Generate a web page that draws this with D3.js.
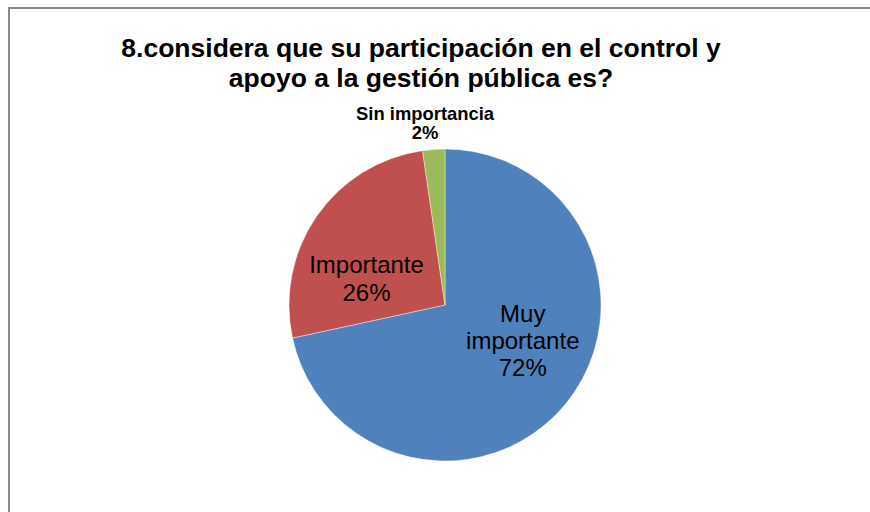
<!DOCTYPE html>
<html>
<head>
<meta charset="utf-8">
<script src="https://cdn.jsdelivr.net/npm/d3@7"></script>
<style>
  body { margin: 0; background: #fff; }
  svg { display: block; font-family: "Liberation Sans", Arial, sans-serif; }
</style>
</head>
<body>
<svg id="chart"></svg>
<script>
// data
const categories = ['Muy importante', 'Importante', 'Sin importancia'];
const values = [71.6, 26.1, 2.3];
const labelLines = [['Muy', 'importante', '72%'], ['Importante', '26%'], ['Sin importancia', '2%']];
const titleLines = ['8.considera que su participación en el control y', 'apoyo a la gestión pública es?'];
const colors = ['#4F81BD', '#C0504D', '#9BBB59'];

const width = 870, height = 512;
const cx = 445, cy = 305, radius = 156;

const svg = d3.select('#chart')
    .attr('width', width)
    .attr('height', height);

svg.append('rect')
    .attr('width', width).attr('height', height)
    .attr('fill', '#fff');

// chart frame (only left and top edges visible)
svg.append('rect')
    .attr('x', 9).attr('y', 8)
    .attr('width', 1000).attr('height', 1000)
    .attr('fill', 'none')
    .attr('stroke', '#8a8a8a')
    .attr('stroke-width', 2);

// title
svg.append('g').selectAll('text')
    .data(titleLines)
    .join('text')
    .attr('x', 421)
    .attr('y', (d, i) => 57 + i * 30)
    .attr('text-anchor', 'middle')
    .style('font-size', '26.5px')
    .style('font-weight', 'bold')
    .attr('fill', '#000')
    .text(d => d);

const pie = d3.pie().sort(null).value(d => d);
const arcs = pie(values);

const arc = d3.arc().innerRadius(0).outerRadius(radius);

const chart = svg.append('g')
    .attr('transform', `translate(${cx},${cy})`);

chart.selectAll('path')
    .data(arcs)
    .join('path')
    .attr('d', arc)
    .attr('fill', (d, i) => colors[i])
    .attr('stroke', '#fff')
    .attr('stroke-width', 0.4);

// label placement: inner labels near centroid, small slice outside
const labelStyle = [
    { r: 0.55, dx: 11, dy: -18, size: 24, lh: 27, bold: false },
    { r: 0.55, dx: -8, dy: 22, size: 24, lh: 28, bold: false },
    { r: 1.15, dx: -7, dy: -3, size: 18.4, lh: 19, bold: true }
];

arcs.forEach((d, i) => {
    const s = labelStyle[i];
    const la = d3.arc().innerRadius(radius * s.r).outerRadius(radius * s.r);
    const [x, y] = la.centroid(d);
    const px = x + s.dx, py = y + s.dy;
    const lines = labelLines[i];
    const y0 = py - (lines.length - 1) * s.lh / 2 + s.size * 0.35;
    const t = chart.append('text')
        .attr('text-anchor', 'middle')
        .style('font-size', s.size + 'px')
        .style('font-weight', s.bold ? 'bold' : 'normal')
        .attr('fill', '#000');
    lines.forEach((line, j) => {
        t.append('tspan')
            .attr('x', px)
            .attr('y', y0 + j * s.lh)
            .text(line);
    });
});
</script>
</body>
</html>
